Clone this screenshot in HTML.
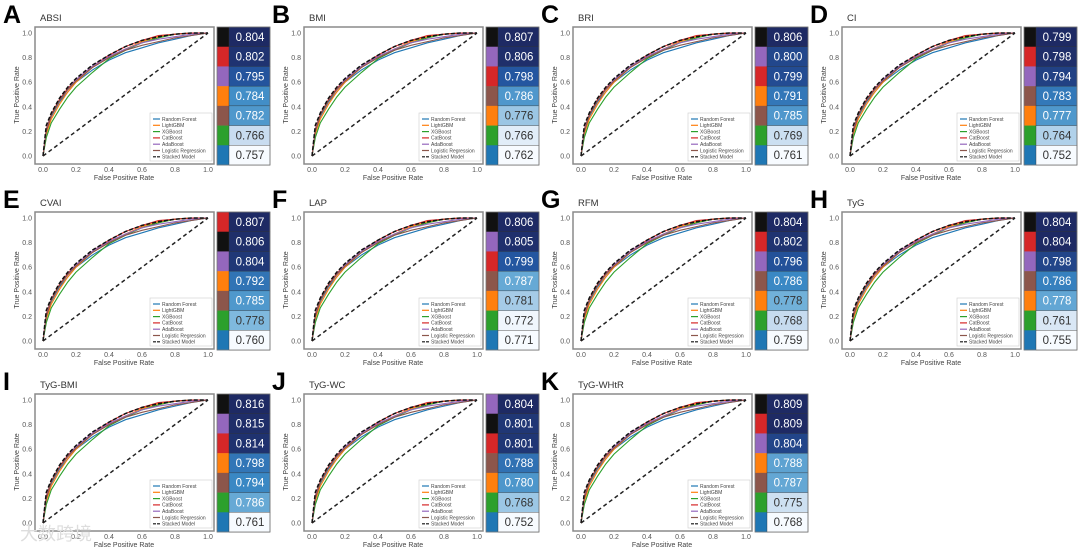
<!DOCTYPE html>
<html><head><meta charset="utf-8"><style>
body{margin:0;background:#fff;width:1080px;height:549px;overflow:hidden;font-family:"Liberation Sans","DejaVu Sans",sans-serif}
svg{display:block}
</style></head><body>
<svg id="fig" width="1080" height="549" xmlns="http://www.w3.org/2000/svg"></svg>
<script>
// ---- data ----
const panelLetters=["A","B","C","D","E","F","G","H","I","J","K"];
const panelTitles=["ABSI","BMI","BRI","CI","CVAI","LAP","RFM","TyG","TyG-BMI","TyG-WC","TyG-WHtR"];
const modelNames=["Random Forest","LightGBM","XGBoost","CatBoost","AdaBoost","Logistic Regression","Stacked Model"];
const modelColors=["#1f77b4","#ff7f0e","#2ca02c","#d62728","#9467bd","#8c564b","#111111"];
const fprGrid=[0,0.02,0.05,0.1,0.15,0.2,0.3,0.4,0.5,0.6,0.7,0.8,0.9,1];
const tprRF=[0,0.2,0.32,0.44,0.52,0.6,0.7,0.78,0.84,0.88,0.92,0.95,0.98,1];
const tprLGBM=[0,0.18,0.3,0.42,0.52,0.6,0.72,0.8,0.87,0.93,0.97,0.99,1,1];
const tprXGB=[0,0.15,0.27,0.38,0.48,0.56,0.68,0.79,0.86,0.92,0.96,0.99,1,1];
const tprCat=[0,0.22,0.34,0.46,0.55,0.62,0.73,0.82,0.89,0.94,0.98,0.99,1,1];
const tprAda=[0,0.21,0.33,0.45,0.54,0.62,0.73,0.81,0.87,0.92,0.95,0.97,0.99,1];
const tprLR=[0,0.2,0.33,0.45,0.54,0.61,0.72,0.8,0.86,0.9,0.93,0.96,0.98,1];
const tprStack=[0,0.25,0.35,0.47,0.56,0.63,0.74,0.82,0.89,0.94,0.97,0.99,1,1];
const xTicks=[0,0.2,0.4,0.6,0.8,1.0];
const yTicks=[0,0.2,0.4,0.6,0.8,1.0];
const aucOrder=[[6,3,4,1,5,2,0],[6,4,3,5,1,2,0],[6,4,3,1,5,2,0],[6,3,4,5,1,2,0],[3,6,4,1,5,2,0],[6,4,3,5,1,2,0],[6,3,4,5,1,2,0],[6,3,4,5,1,2,0],[6,4,3,1,5,2,0],[4,6,3,5,1,2,0],[6,3,4,1,5,2,0]];
const aucValues=[[0.804,0.802,0.795,0.784,0.782,0.766,0.757],[0.807,0.806,0.798,0.786,0.776,0.766,0.762],[0.806,0.800,0.799,0.791,0.785,0.769,0.761],[0.799,0.798,0.794,0.783,0.777,0.764,0.752],[0.807,0.806,0.804,0.792,0.785,0.778,0.760],[0.806,0.805,0.799,0.787,0.781,0.772,0.771],[0.804,0.802,0.796,0.786,0.778,0.768,0.759],[0.804,0.804,0.798,0.786,0.778,0.761,0.755],[0.816,0.815,0.814,0.798,0.794,0.786,0.761],[0.804,0.801,0.801,0.788,0.780,0.768,0.752],[0.809,0.809,0.804,0.788,0.787,0.775,0.768]];
const tprSeries=[tprRF,tprLGBM,tprXGB,tprCat,tprAda,tprLR,tprStack];

const NS="http://www.w3.org/2000/svg";
const fig=document.getElementById('fig');
function mk(tag,attrs,parent){const e=document.createElementNS(NS,tag);for(const k in attrs)e.setAttribute(k,attrs[k]);(parent||fig).appendChild(e);return e;}
const colX=[0,269,538,807], rowY=[27,212,394];
const stops=[[247,251,255],[198,219,239],[120,182,220],[58,136,196],[36,86,160],[30,42,100]];
function blues(t){t=Math.max(0,Math.min(1,t));const p=t*(stops.length-1),i=Math.min(stops.length-2,Math.floor(p)),f=p-i;const a=stops[i],b=stops[i+1];return `rgb(${a.map((v,k)=>Math.round(v+(b[k]-v)*f)).join(',')})`;}

panelLetters.forEach((L,pi)=>{
  const ox=colX[pi%4], ty=rowY[Math.floor(pi/4)];
  const g=mk('g',{});
  
  
  const X0=ox+43,X1=ox+208,Y0=ty+129,Y1=ty+6;
  const sx=v=>X0+(X1-X0)*v, sy=v=>Y0+(Y1-Y0)*v;
  const lt=mk('text',{x:ox+3,y:ty-4,'font-size':25,'font-weight':'bold',fill:'#000'},g);lt.textContent=L;
  
  const tt=mk('text',{x:ox+40,y:ty-6,'font-size':9.5,fill:'#333'},g);tt.textContent=panelTitles[pi];
  
  const fr=mk('rect',{x:ox+35,y:ty,width:179,height:137,fill:'#fff',stroke:'#8a8a8a','stroke-width':1.5},g);
  
  xTicks.forEach(v=>{const t=mk('text',{x:sx(v),y:ty+145,'font-size':7,fill:'#555','text-anchor':'middle'},g);t.textContent=v.toFixed(1);
    });
  yTicks.forEach(v=>{const t=mk('text',{x:ox+32,y:sy(v)+2.5,'font-size':7,fill:'#555','text-anchor':'end'},g);t.textContent=v.toFixed(1);
    });
  const xt=mk('text',{x:ox+124,y:ty+153,'font-size':7,fill:'#444','text-anchor':'middle'},g);xt.textContent='False Positive Rate';
  
  const yt=mk('text',{x:0,y:0,'font-size':7,fill:'#444','text-anchor':'middle',transform:`translate(${ox+19},${ty+68}) rotate(-90)`},g);yt.textContent='True Positive Rate';
  
  const dg=mk('line',{x1:sx(0),y1:sy(0),x2:sx(1),y2:sy(1),stroke:'#222','stroke-width':1.5,'stroke-dasharray':'4,3'},g);
  
  tprSeries.forEach((s,mi)=>{
    const d=s.map((v,i)=>(i?'L':'M')+sx(fprGrid[i]).toFixed(1)+','+sy(v).toFixed(1)).join('');
    const p=mk('path',{d,fill:'none',stroke:modelColors[mi],'stroke-width':mi==6?1.5:1.1,'stroke-dasharray':mi==6?'4,2':'none'},g);
    
    
  });
  const lg=mk('g',{},g);
  mk('rect',{x:ox+150,y:ty+86,width:62,height:48,fill:'#fff',stroke:'#ccc','stroke-width':0.6},lg);
  modelNames.forEach((n,mi)=>{const yy=ty+92+mi*6.3;
    mk('line',{x1:ox+153,y1:yy,x2:ox+160,y2:yy,stroke:modelColors[mi],'stroke-width':1.2,'stroke-dasharray':mi==6?'3,1':'none'},lg);
    const t=mk('text',{x:ox+162,y:yy+1.8,'font-size':5,fill:'#444'},lg);t.textContent=n;
    });
  const hm=mk('g',{},g);
  const vals=aucValues[pi],mx=Math.max(...vals),mn=Math.min(...vals),rh=138/7;
  vals.forEach((v,r)=>{const t=(v-mn)/(mx-mn||1);const yy=ty+r*rh;
    const c1=mk('rect',{x:ox+217,y:yy,width:12,height:rh+0.3,fill:modelColors[aucOrder[pi][r]]},hm);
    
    const c2=mk('rect',{x:ox+229,y:yy,width:41,height:rh+0.3,fill:blues(t),stroke:'#333','stroke-width':0.4},hm);
    
    const tx=mk('text',{x:ox+250,y:yy+rh/2+4,'font-size':11.5,'text-anchor':'middle',fill:t>0.45?'#fff':'#333'},hm);tx.textContent=v.toFixed(3);
    
  });
  mk('rect',{x:ox+217,y:ty,width:53,height:138,fill:'none',stroke:'#777','stroke-width':0.8},hm);
});
const wm=mk('text',{x:20,y:540,'font-size':18,fill:'#ddd','font-family':'"Liberation Sans","Noto Sans CJK SC",sans-serif'});
wm.textContent='大数跨境';

</script>
</body></html>
